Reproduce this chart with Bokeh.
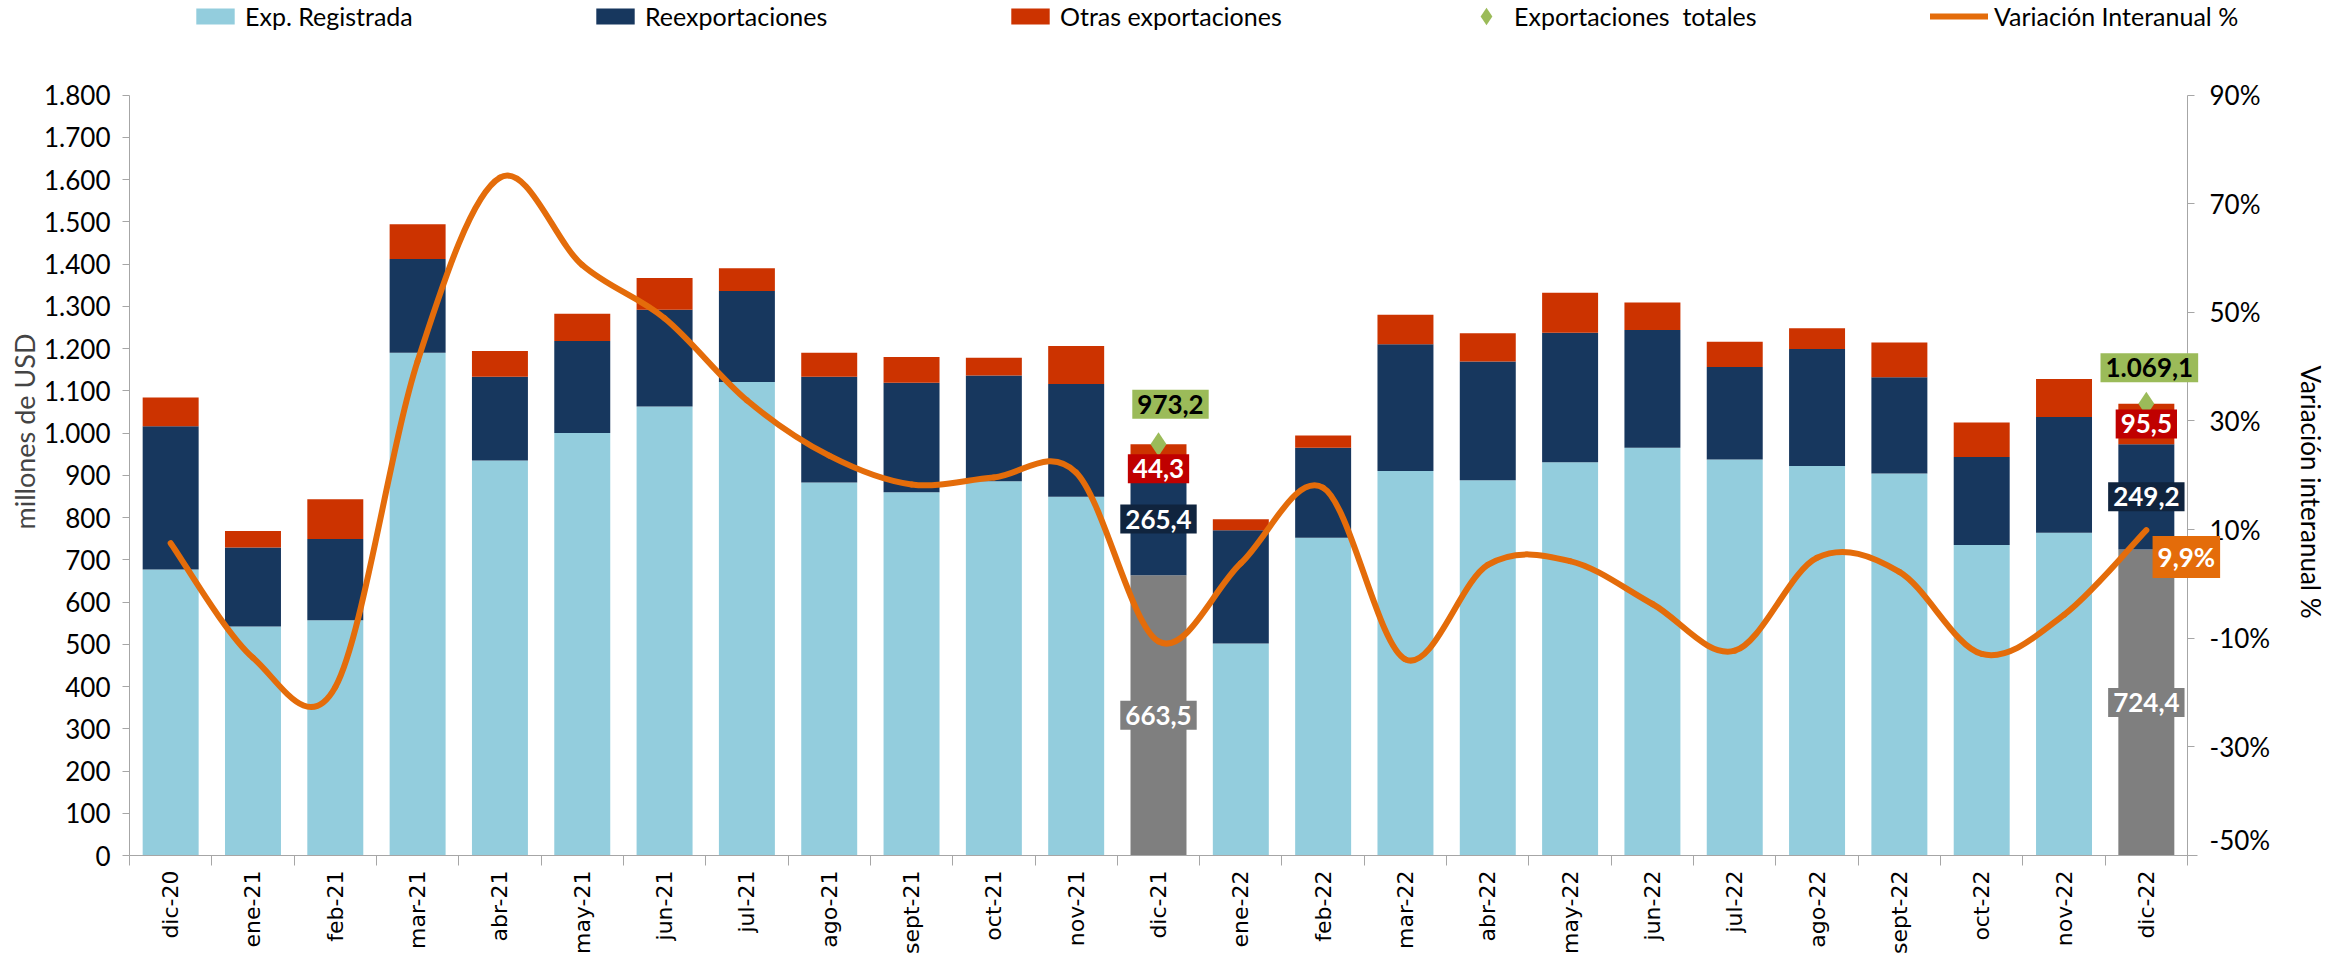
import numpy as np
from bokeh.plotting import figure
from bokeh.models import (Range1d, LinearAxis, FixedTicker, CustomJSTickFormatter,
                          Legend, LegendItem, Label, ColumnDataSource)
from bokeh.embed import file_html
from bokeh.resources import INLINE

# ---------------- data ----------------
months = ["dic-20", "ene-21", "feb-21", "mar-21", "abr-21", "may-21", "jun-21", "jul-21",
          "ago-21", "sept-21", "oct-21", "nov-21", "dic-21", "ene-22", "feb-22", "mar-22",
          "abr-22", "may-22", "jun-22", "jul-22", "ago-22", "sept-22", "oct-22", "nov-22", "dic-22"]
exp_registrada = [677, 542, 557, 1190, 935, 1000, 1063, 1121, 883, 860, 886, 849, 663.5,
                  502, 752, 910, 888, 931, 965, 937, 922, 904, 735, 764, 724.4]
reexportaciones = [339, 187, 192, 222, 198, 218, 229, 215, 250, 259, 250, 267, 265.4,
                   268, 213, 300, 281, 306, 279, 219, 277, 228, 208, 274, 249.2]
otras_exportaciones = [68, 39, 94, 82, 61, 64, 75, 54, 57, 61, 42, 90, 44.3,
                       26, 29, 70, 67, 95, 65, 60, 49, 82, 82, 90, 95.5]
variacion_interanual = [7.5, -13.6, -19.0, 41.0, 74.8, 58.7, 48.9, 33.8, 23.6, 18.3, 19.6, 20.5,
                        -10.6, 3.8, 17.7, -13.9, 3.5, 4.2, -3.7, -12.3, 4.8, 2.2, -12.9, -5.7, 9.9]
meses_destacados = ["dic-21", "dic-22"]
exportaciones_totales = [973.2, 1069.1]

y_ticks = list(range(0, 1801, 100))
pct_ticks = [-50, -30, -10, 10, 30, 50, 70, 90]

# ---------------- styles / geometry ----------------
C_LIGHT = "#93CDDD"
C_GREY = "#7F7F7F"
C_NAVY = "#17375E"
C_RED = "#CC3300"
C_ORANGE = "#E46C0A"
C_GREEN = "#9BBB59"
C_LBL_RED = "#C00000"
C_LBL_NAVY = "#10243E"
C_AXIS = "#A6A6A6"
FONT = "Lato"

FIG_W, FIG_H = 2351, 957
B_LEFT, B_RIGHT, B_BOTTOM = 129, 30, 102
AXIS_TOP_PX = 94.5          # top of the value axes (px from the top)
RIGHT_AXIS_PX = 2187        # x of the right value axis
n = len(months)
cat_px = (RIGHT_AXIS_PX - B_LEFT) / n
x_end = -0.5 + (FIG_W - B_RIGHT - B_LEFT) / cat_px   # frame runs past the right axis (room for texts)
frame_h = FIG_H - B_BOTTOM
axis_h = frame_h - AXIS_TOP_PX
y_max = 1800 * frame_h / axis_h                      # frame runs above the axis top (room for legend)
pct_max = -50 + 140 * frame_h / axis_h

xi = list(range(n))
light = np.array(exp_registrada, dtype=float)
dark = np.array(reexportaciones, dtype=float)
red = np.array(otras_exportaciones, dtype=float)
light_colors = [C_GREY if m in meses_destacados else C_LIGHT for m in months]

p = figure(width=FIG_W, height=FIG_H, output_backend="svg", toolbar_location=None,
           x_range=Range1d(-0.5, x_end), y_range=Range1d(0, y_max),
           min_border_left=B_LEFT, min_border_right=B_RIGHT, min_border_top=0,
           min_border_bottom=B_BOTTOM,
           background_fill_color="white", border_fill_color="white")
p.outline_line_color = None
p.grid.visible = False
p.extra_y_ranges = {"pct": Range1d(-50, pct_max)}

src = ColumnDataSource(dict(x=xi, light=light, dark_top=light + dark, red_top=light + dark + red,
                            lc=light_colors))
W = 0.68
r_light = p.vbar(x="x", width=W, bottom=0, top="light", fill_color="lc", line_color=None, source=src)
r_dark = p.vbar(x="x", width=W, bottom="light", top="dark_top", fill_color=C_NAVY, line_color=None, source=src)
r_red = p.vbar(x="x", width=W, bottom="dark_top", top="red_top", fill_color=C_RED, line_color=None, source=src)

# smooth line (Catmull-Rom style bezier segments through the data points)
ys = np.array(variacion_interanual, dtype=float)
xs = np.arange(n, dtype=float)
x0, y0, x1, y1, cx0, cy0, cx1, cy1 = ([] for _ in range(8))
for i in range(n - 1):
    ip = max(i - 1, 0)
    inn = min(i + 2, n - 1)
    x0.append(xs[i]); y0.append(ys[i]); x1.append(xs[i + 1]); y1.append(ys[i + 1])
    cx0.append(xs[i] + (xs[i + 1] - xs[ip]) / 6.0)
    cy0.append(ys[i] + (ys[i + 1] - ys[ip]) / 6.0)
    cx1.append(xs[i + 1] - (xs[inn] - xs[i]) / 6.0)
    cy1.append(ys[i + 1] - (ys[inn] - ys[i]) / 6.0)
r_line = p.bezier(x0=x0, y0=y0, x1=x1, y1=y1, cx0=cx0, cy0=cy0, cx1=cx1, cy1=cy1,
                  line_color=C_ORANGE, line_width=6, line_cap="round", y_range_name="pct")

# total markers
hx = [months.index(m) for m in meses_destacados]
r_tot = p.scatter(x=hx, y=exportaciones_totales, marker="diamond", size=24,
                  fill_color=C_GREEN, line_color=None)

# ---------------- axes ----------------
ax = p.xaxis[0]
ax.bounds = (-0.5, n - 0.5 + 0.12)
ax.ticker = FixedTicker(ticks=xi, minor_ticks=[i - 0.5 for i in range(n + 1)])
ax.major_label_overrides = {i: m for i, m in enumerate(months)}
ax.major_label_orientation = np.pi / 2
ax.major_tick_line_color = None
ax.major_tick_out = 0
ax.major_tick_in = 0
ax.minor_tick_out = 10
ax.minor_tick_in = 0
ax.minor_tick_line_color = C_AXIS
ax.axis_line_color = C_AXIS
ax.major_label_standoff = 5
ax.major_label_text_font = "DejaVu Sans"
ax.major_label_text_font_size = "22px"
ax.major_label_text_color = "black"

ly = p.yaxis[0]
ly.bounds = (0, 1800)
ly.ticker = FixedTicker(ticks=y_ticks, minor_ticks=[])
ly.formatter = CustomJSTickFormatter(code="return Math.round(tick).toString().replace(/\\B(?=(\\d{3})+(?!\\d))/g, '.');")
ly.axis_line_color = C_AXIS
ly.major_tick_line_color = C_AXIS
ly.major_tick_out = 7
ly.major_tick_in = 0
ly.minor_tick_line_color = None
ly.major_label_standoff = 12
ly.major_label_text_font = FONT
ly.major_label_text_font_size = "26px"
ly.major_label_text_color = "black"
ly.axis_label = "millones de  USD"
ly.axis_label_text_font = FONT
ly.axis_label_text_font_style = "normal"
ly.axis_label_text_font_size = "27px"
ly.axis_label_standoff = 0

# right (percentage) axis: drawn at the last category edge; its texts are set as labels
# inside the (wider) frame so that nothing is clipped
ry = LinearAxis(y_range_name="pct", ticker=FixedTicker(ticks=pct_ticks, minor_ticks=[]),
                formatter=CustomJSTickFormatter(code="return '';"), bounds=(-50, 90),
                fixed_location=n - 0.5)
ry.axis_line_color = C_AXIS
ry.major_tick_line_color = C_AXIS
ry.major_tick_out = 7
ry.major_tick_in = 0
ry.minor_tick_line_color = None
ry.major_label_standoff = 0
p.add_layout(ry, "right")

for t in pct_ticks:
    lowest = t == pct_ticks[0]
    p.add_layout(Label(x=n - 0.5, y=t, y_range_name="pct", text=f"{t}%", x_offset=22,
                       text_align="left", text_baseline=("bottom" if lowest else "middle"),
                       text_font=FONT, text_font_size="26px", text_color="black"))
p.add_layout(Label(x=n - 0.5, y=(pct_ticks[0] + pct_ticks[-1]) / 2, y_range_name="pct",
                   text="Variación  interanual %", x_offset=123, y_offset=-20, angle=-np.pi / 2,
                   text_align="center", text_baseline="middle", text_font=FONT,
                   text_font_size="26px", text_color="black"))

# ---------------- legend ----------------
legend_specs = [
    ("Exp. Registrada", r_light, 62, 48, 20, 0),
    ("Reexportaciones", r_dark, 462, 48, 20, 0),
    ("Otras exportaciones", r_red, 877, 48, 20, 0),
    ("Exportaciones  totales", r_tot, 1335, 44, 44, -7),
    ("Variación Interanual %", r_line, 1801, 58, 20, 0),
]
for label, rend, lx, gw, gh, dy in legend_specs:
    lg = Legend(items=[LegendItem(label=label, renderers=[rend], index=0)],
                location=(lx, frame_h - 31 + dy),
                orientation="horizontal", border_line_color=None, background_fill_alpha=0,
                padding=0, margin=0, glyph_width=gw, glyph_height=gh, label_standoff=6,
                label_text_font=FONT, label_text_font_size="25px", label_text_color="black")
    p.add_layout(lg, "center")

# ---------------- data labels ----------------
def fmt(v, pct=False):
    s = f"{v:,.1f}".replace(",", "X").replace(".", ",").replace("X", ".")
    return s + ("%" if pct else "")

def add_label(x, y, text, bg, color="white", yo=0, xo=0, rng="default"):
    p.add_layout(Label(x=x, y=y, text=text, x_offset=xo, y_offset=yo, y_range_name=rng,
                       text_align="center", text_baseline="middle",
                       text_font=FONT, text_font_style="bold", text_font_size="26px",
                       text_color=color, background_fill_color=bg, padding=5))

red_offsets = [-15, 0]
green_offsets = [40, 36]
green_xoffsets = [12, 3]
for k, m in enumerate(meses_destacados):
    i = months.index(m)
    add_label(i, light[i] / 2, fmt(light[i]), C_GREY)
    add_label(i, light[i] + dark[i] / 2, fmt(dark[i]), C_LBL_NAVY)
    add_label(i, light[i] + dark[i] + red[i] / 2, fmt(red[i]), C_LBL_RED, yo=red_offsets[k])
    add_label(i, exportaciones_totales[k], fmt(exportaciones_totales[k]), C_GREEN, color="black",
              yo=green_offsets[k], xo=green_xoffsets[k])
last = n - 1
add_label(last, variacion_interanual[last], fmt(variacion_interanual[last], pct=True), C_ORANGE,
          xo=40, yo=-27, rng="pct")

open("out.html", "w").write(file_html(p, INLINE))
